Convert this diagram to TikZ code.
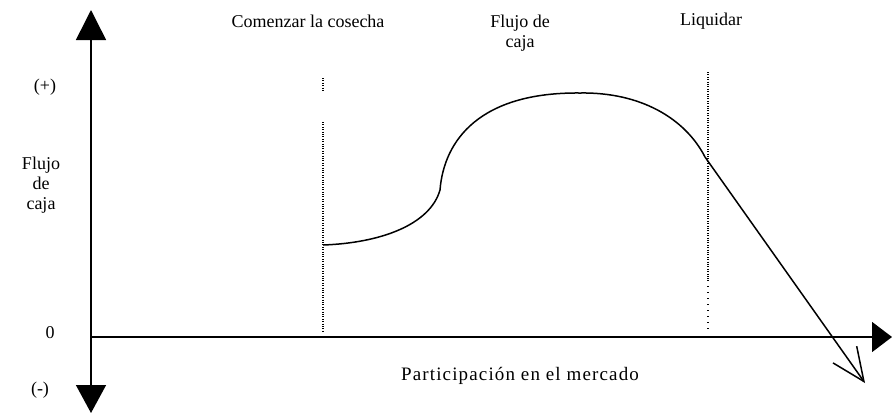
\documentclass[tikz,border=0pt]{standalone}
\usepackage{fontspec}
\setmainfont{Liberation Serif}
\usetikzlibrary{arrows.meta}

\tikzset{
    axis/.style={line width=1.5pt},
    marker/.style={line width=1.2pt, dash pattern=on 1pt off 1.4pt},
    lbl/.style={align=center, font=\fontsize{18}{20}\selectfont}
}

\begin{document}
\begin{tikzpicture}[x=1pt, y=-1pt]
                        \useasboundingbox (0,0) rectangle (892,413);
                        % axes
                        \coordinate (origin) at (91,337);
                        \coordinate (ytop) at (91,10);
                        \coordinate (ybot) at (91,413);
                        \coordinate (xend) at (892,337);
                        \draw [axis, -{Triangle[width=30pt,length=30pt]}] (origin) -- (ytop);
                        \draw [axis, -{Triangle[width=30pt,length=28pt]}] (origin) -- (ybot);
                        \draw [axis, -{Triangle[width=30pt,length=20pt]}] (origin) -- (xend);
                        % dotted markers
                        \draw [marker] (323,78) -- (323,92);
                        \draw [marker] (323,122) -- (323,333);
                        \draw [marker] (708,72) -- (708,280);
                        \draw [marker, dash pattern=on 1pt off 5pt] (708,280) -- (708,330);
                        % cash flow curve
                        \coordinate (harvest) at (323,245);
                        \coordinate (knee) at (705,157);
                        \coordinate (exit) at (865,383);
                        \draw [axis] (harvest) .. controls (380,243) and (430,225) .. (440,190)
                            .. controls (444,140) and (480,92) .. (580,93)
                            .. controls (640,92) and (685,118) .. (knee);
                        \draw [axis, -{Straight Barb[length=33pt,width=29pt]}] (knee) -- (exit);
                        % labels
                        \node [lbl] (plus) at (45, 87) {(+)};
                        \node [lbl] (ylabel) at (41, 185) {Flujo\\de\\caja};
                        \node [lbl] (zero) at (50, 333) {0};
                        \node [lbl] (minus) at (40, 390) {(-)};
                        \node [lbl] (start) at (308, 21) {Comenzar la cosecha};
                        \node [lbl, anchor=north] (flow) at (520, 11) {Flujo de\\caja};
                        \node [lbl] (sell) at (711, 21) {Liquidar};
                        \node [lbl, font=\fontsize{19}{21}\selectfont\addfontfeature{LetterSpace=6}] (xlabel) at (520, 376) {Participación en el mercado};
                    \end{tikzpicture}
\end{document}
